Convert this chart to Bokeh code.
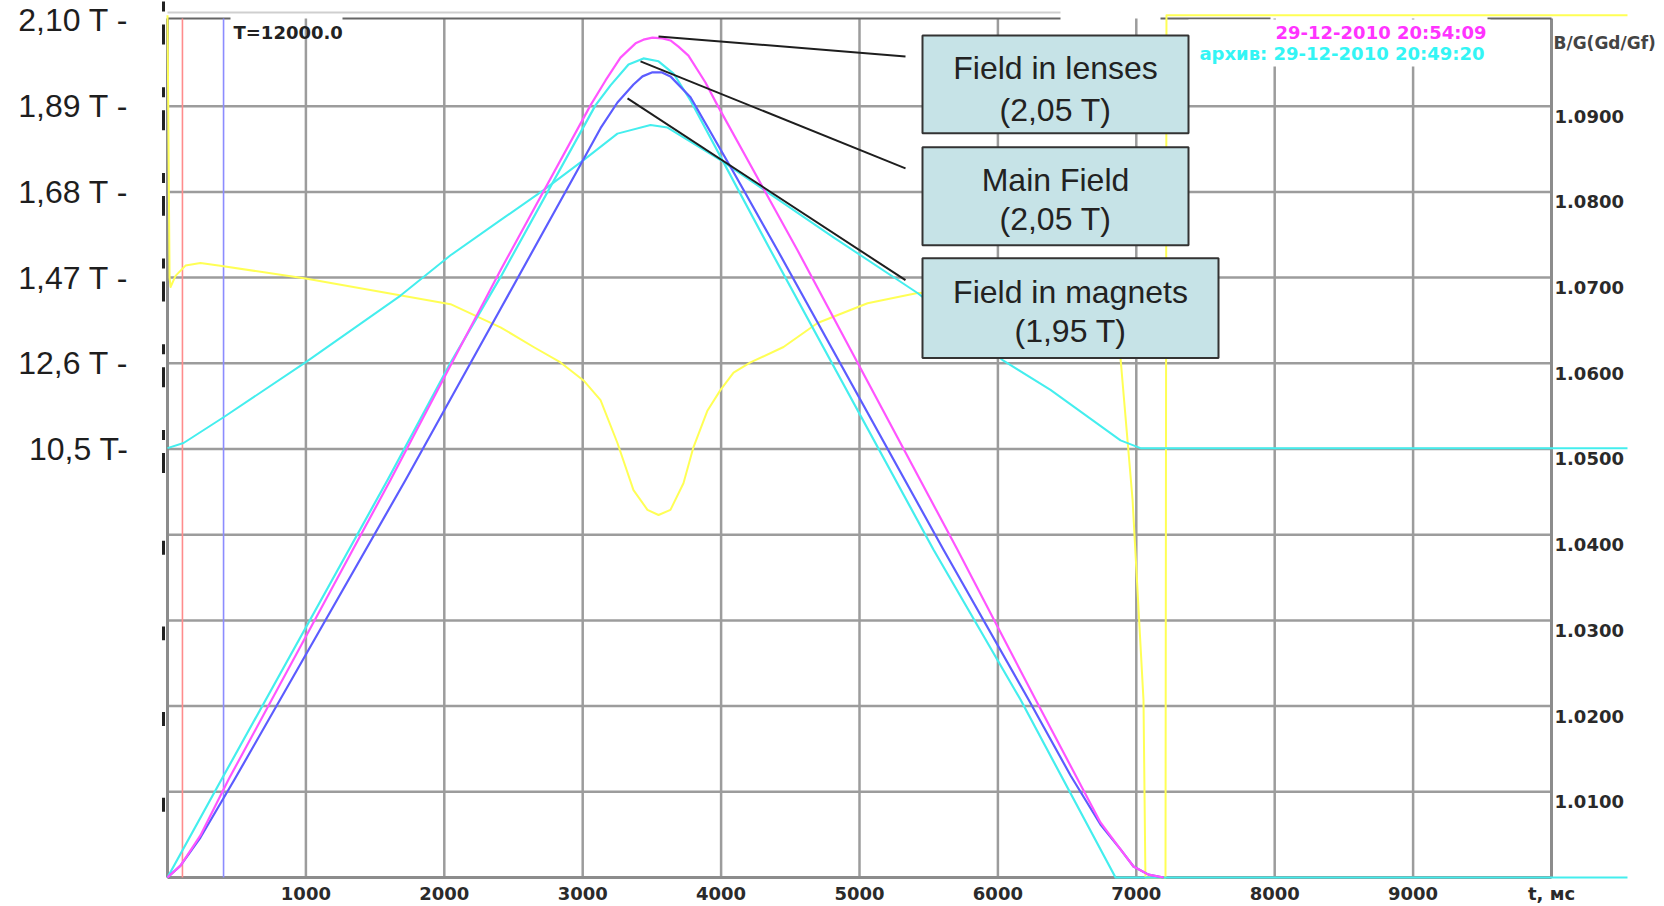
from bokeh.plotting import figure
from bokeh.models import Range1d, FixedTicker
from bokeh.embed import file_html
from bokeh.resources import INLINE
from bokeh.core.properties import value

# ---------------- data ----------------
t_ticks = [1000, 2000, 3000, 4000, 5000, 6000, 7000, 8000, 9000, 10000]
t_tick_labels = ["1000", "2000", "3000", "4000", "5000", "6000", "7000", "8000", "9000", "t, мс"]

field_grid = [0.21, 0.42, 0.63, 0.84, 1.05, 1.26, 1.47, 1.68, 1.89]
field_ticks = [1.05, 1.26, 1.47, 1.68, 1.89, 2.10]
field_tick_labels = ["10,5 T-", "12,6 T -", "1,47 T -", "1,68 T -", "1,89 T -", "2,10 T -"]

bg_ticks = [1.01, 1.02, 1.03, 1.04, 1.05, 1.06, 1.07, 1.08, 1.09]
bg_tick_labels = ["1.0100", "1.0200", "1.0300", "1.0400", "1.0500", "1.0600", "1.0700", "1.0800", "1.0900"]

# Main field (cyan), T
main_t = [0, 390, 1590, 2045, 2406, 3092, 3201, 3331, 3439, 3548, 3656, 3779, 4357, 5535, 6163, 6850, 10549]
main_b = [0.000, 0.240, 0.974, 1.261, 1.471, 1.892, 1.941, 1.992, 2.007, 2.000, 1.970, 1.904, 1.537, 0.803, 0.436, 0.000, 0.000]

# Field in lenses (magenta), T
lens_t = [0, 94, 238, 441, 1611, 2406, 3056, 3165, 3273, 3382, 3439, 3504, 3577, 3634, 3692, 3764, 3887, 3974, 4552, 5708, 6272, 6741, 6886, 6980, 7088, 7197]
lens_b = [0.000, 0.029, 0.103, 0.240, 0.974, 1.488, 1.892, 1.953, 2.009, 2.044, 2.053, 2.058, 2.056, 2.051, 2.036, 2.014, 1.948, 1.892, 1.537, 0.803, 0.436, 0.135, 0.069, 0.027, 0.007, 0.000]

# Field in magnets (blue), T
mag_t = [0, 94, 238, 484, 1720, 2406, 2962, 3129, 3251, 3367, 3432, 3504, 3569, 3634, 3779, 4082, 4408, 5607, 6221, 6525, 6741, 6886, 6980, 7088, 7197]
mag_b = [0.000, 0.029, 0.098, 0.240, 0.974, 1.393, 1.733, 1.836, 1.899, 1.943, 1.963, 1.973, 1.973, 1.963, 1.912, 1.733, 1.537, 0.803, 0.436, 0.250, 0.130, 0.069, 0.027, 0.007, 0.000]

# B/G archive (cyan, right scale)
arch_t = [0, 116, 405, 997, 1684, 2045, 2406, 2717, 3006, 3251, 3490, 3613, 3996, 4812, 5419, 6040, 6380, 6886, 7030, 10549]
arch_bg = [1.0501, 1.0507, 1.0537, 1.0601, 1.0679, 1.0726, 1.0767, 1.0802, 1.0837, 1.0868, 1.0878, 1.0875, 1.0837, 1.0747, 1.0682, 1.0603, 1.0569, 1.0510, 1.0501, 1.0501]

# B/G current (yellow, right scale)
ratio_t = [0, 15, 22, 58, 130, 238, 368, 997, 2045, 2406, 2645, 2840, 3006, 3129, 3251, 3367, 3468, 3548,
           3634, 3728, 3800, 3902, 3996, 4090, 4212, 4451, 4697, 5058, 5419, 6019, 6597, 6777, 6850, 6886,
           6973, 7052, 7066, 7211, 7218, 10549]
ratio_bg = [1.1006, 1.0700, 1.0689, 1.0702, 1.0714, 1.0717, 1.0714, 1.0699, 1.0669, 1.0642, 1.0619, 1.0601,
            1.0580, 1.0557, 1.0507, 1.0452, 1.0429, 1.0423, 1.0429, 1.0460, 1.0502, 1.0545, 1.0569, 1.0589,
            1.0601, 1.0619, 1.0647, 1.0670, 1.0682, 1.0685, 1.0674, 1.0653, 1.0627, 1.0606, 1.0441, 1.0207,
            1.0000, 1.0000, 1.1006, 1.1006]

cursor_red_t = 108
cursor_blue_t = 405

# ---------------- layout helpers (pixel -> data for annotations) ----------------
PX_PER_MS = 0.1384
PX_PER_T = 85.8 / 0.21
X0PX, Y0PX = 167, 878


def X(px):
    return (px - X0PX) / PX_PER_MS


def Y(py):
    return (Y0PX - py) / PX_PER_T


T_TOP = Y(18)
T_END = 10000

p = figure(width=1664, height=906, output_backend="svg", toolbar_location=None,
           x_range=Range1d(X(160), X(1664)), y_range=Range1d(Y(882), Y(0)),
           min_border_left=160, min_border_bottom=24, min_border_top=0, min_border_right=0)
p.title.visible = False
p.outline_line_color = None
p.grid.visible = False
p.background_fill_color = "white"
p.border_fill_color = "white"
k = 0.1 / 2.1
p.extra_y_ranges = {"bg": Range1d(1 + Y(882) * k, 1 + Y(0) * k)}

# axes
for ax in (p.xaxis[0], p.yaxis[0]):
    ax.axis_line_color = None
    ax.major_tick_line_color = None
    ax.minor_tick_line_color = None
    ax.major_tick_out = 0
    ax.major_tick_in = 0
    ax.minor_tick_out = 0
    ax.minor_tick_in = 0

p.yaxis.ticker = FixedTicker(ticks=field_ticks)
p.yaxis.major_label_overrides = {t: l for t, l in zip(field_ticks, field_tick_labels)}
p.yaxis.major_label_standoff = 32
p.yaxis.major_label_text_font = "Liberation Sans"
p.yaxis.major_label_text_font_size = "32px"
p.yaxis.major_label_text_color = "#1e1e1e"

p.xaxis.ticker = FixedTicker(ticks=t_ticks)
p.xaxis.major_label_overrides = {t: l for t, l in zip(t_ticks, t_tick_labels)}
p.xaxis.major_label_standoff = 1
p.xaxis.major_label_text_font = "DejaVu Sans"
p.xaxis.major_label_text_font_style = "bold"
p.xaxis.major_label_text_font_size = "18px"
p.xaxis.major_label_text_color = "#2a2a2a"

# grid
p.segment(x0=[0] * len(field_grid), x1=[T_END] * len(field_grid), y0=field_grid, y1=field_grid,
          line_color="#9c9c9c", line_width=2.5)
vt = t_ticks[:-1]
p.segment(x0=vt, x1=vt, y0=[0] * len(vt), y1=[T_TOP] * len(vt), line_color="#9c9c9c", line_width=2.5)

# frame border
p.segment(x0=[0, 0, T_END], x1=[0, T_END, T_END], y0=[0, 0, 0], y1=[T_TOP, 0, T_TOP],
          line_color="#8c8c8c", line_width=3)
p.segment(x0=[X(167), X(342), X(1160), X(1487)], x1=[X(230), X(1060), X(1270), X(1551)],
          y0=[T_TOP] * 4, y1=[T_TOP] * 4, line_color="#666666", line_width=2)
p.segment(x0=[X(167)], x1=[X(1060)], y0=[Y(12)], y1=[Y(12)], line_color="#cfcfcf", line_width=2)

# left tick dashes
d0, d1 = [], []
for g in field_grid + [2.10]:
    if g >= 1.0:
        d0 += [g + 9 / PX_PER_T, g - 4 / PX_PER_T]
        d1 += [g + 19 / PX_PER_T, g - 24 / PX_PER_T]
    else:
        d0 += [g - 6 / PX_PER_T]
        d1 += [g - 20 / PX_PER_T]
p.segment(x0=[X(163)] * len(d0), x1=[X(163)] * len(d0), y0=d0, y1=d1, line_color="#222222", line_width=3)

# white area behind date texts
p.quad(left=[X(1188)], right=[X(1490)], top=[Y(19)], bottom=[Y(66)], fill_color="white", line_color=None)

# cursors
p.segment(x0=[cursor_red_t], x1=[cursor_red_t], y0=[0], y1=[T_TOP], line_color="#ff8c8c", line_width=1.6)
p.segment(x0=[cursor_blue_t], x1=[cursor_blue_t], y0=[0], y1=[T_TOP], line_color="#8c8cff", line_width=1.6)

# curves
p.line(ratio_t, ratio_bg, y_range_name="bg", line_color="#ffff55", line_width=2, line_join="round")
p.line(arch_t, arch_bg, y_range_name="bg", line_color="#44eeee", line_width=2, line_join="round")
p.line(main_t, main_b, line_color="#44eeee", line_width=2.2, line_join="round")
p.line(mag_t, mag_b, line_color="#5c5cff", line_width=2.2, line_join="round")
p.line(lens_t, lens_b, line_color="#ff55ff", line_width=2.2, line_join="round")

# right-hand scale labels
p.text(x=[T_END] * len(bg_ticks), y=bg_ticks, text=bg_tick_labels, y_range_name="bg",
       x_offset=3, y_offset=10, text_font=value("DejaVu Sans"), text_font_style="bold",
       text_font_size="18px", text_color="#2a2a2a", text_align="left", text_baseline="middle")
p.text(x=[T_END], y=[Y(43)], text=["B/G(Gd/Gf)"], x_offset=2, text_font=value("DejaVu Sans"),
       text_font_style="bold", text_font_size="17px", text_color="#444444", text_align="left",
       text_baseline="middle")

# header texts
p.text(x=[X(233)], y=[Y(32)], text=["T=12000.0"], text_font=value("DejaVu Sans"), text_font_style="bold",
       text_font_size="18px", text_color="#222222", text_align="left", text_baseline="middle")
p.text(x=[X(1486)], y=[Y(32)], text=["29-12-2010 20:54:09"], text_font=value("DejaVu Sans"),
       text_font_style="bold", text_font_size="18px", text_color="#ff33ff", text_align="right",
       text_baseline="middle")
p.text(x=[X(1484)], y=[Y(53)], text=["архив: 29-12-2010 20:49:20"], text_font=value("DejaVu Sans"),
       text_font_style="bold", text_font_size="18px", text_color="#33f5f5", text_align="right",
       text_baseline="middle")

# pointer lines
p.segment(x0=[X(658), X(640), X(627)], y0=[Y(36), Y(61), Y(98)],
          x1=[X(905), X(905), X(905)], y1=[Y(56), Y(168), Y(280)], line_color="#1e1e1e", line_width=2)

# callout boxes
p.quad(left=[X(922), X(922), X(922)], right=[X(1188), X(1188), X(1218)],
       top=[Y(35), Y(147), Y(258)], bottom=[Y(133), Y(245), Y(358)],
       fill_color="#c6e3e7", line_color="#333333", line_width=2)
p.text(x=[X(1055), X(1055), X(1055), X(1055), X(1070), X(1070)],
       y=[Y(68), Y(110), Y(180), Y(219), Y(292), Y(331)],
       text=["Field in lenses", "(2,05 T)", "Main Field", "(2,05 T)", "Field in magnets", "(1,95 T)"],
       text_font=value("Liberation Sans"), text_font_size="32px", text_color="#222222",
       text_align="center", text_baseline="middle")

open("out.html", "w").write(file_html(p, INLINE))
